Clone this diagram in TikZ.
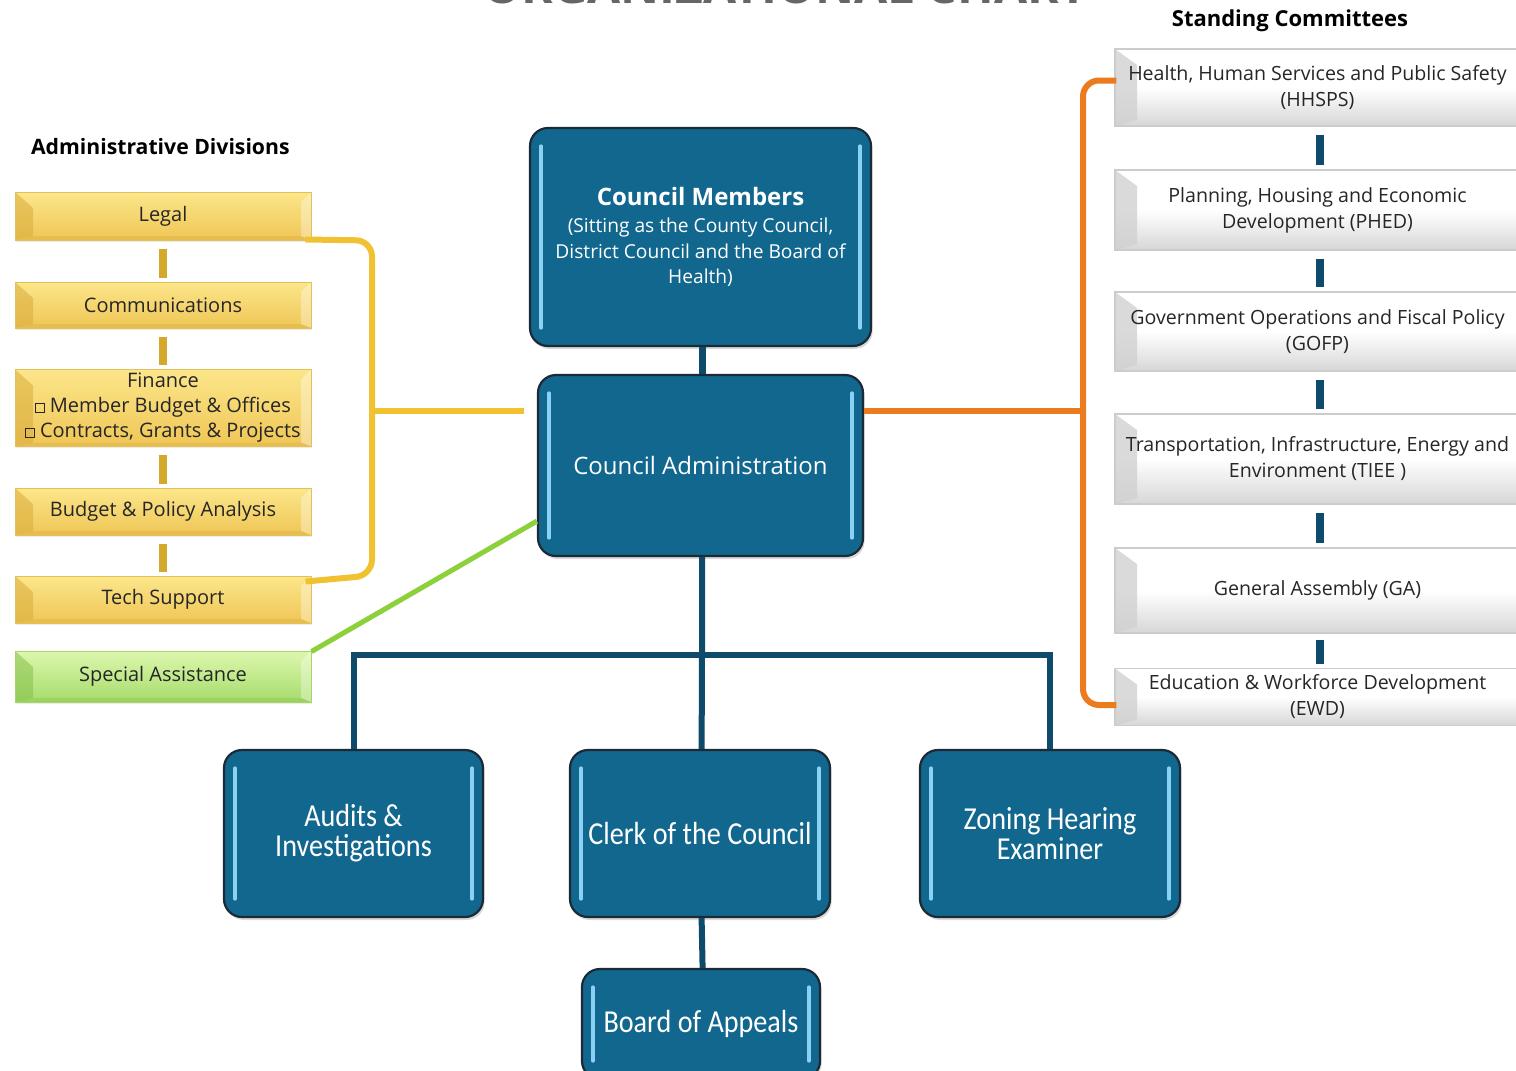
\documentclass[tikz,border=0pt]{standalone}
\usepackage{fontspec}
\setmainfont{Open Sans}
\newfontfamily\condfont[FakeStretch=0.88]{Carlito}
\usetikzlibrary{calc,shadows}
\definecolor{cblue}{HTML}{12678F}
\definecolor{cedge}{HTML}{1C2A36}
\definecolor{chl}{HTML}{8AD2F4}
\definecolor{cline}{HTML}{0E4A6A}
\definecolor{corange}{HTML}{EC7B1E}
\definecolor{cyel}{HTML}{F0C232}
\definecolor{cyeldark}{HTML}{D4A82C}
\definecolor{cgreen}{HTML}{8CD03C}
\definecolor{ytop}{HTML}{FCE68A}
\definecolor{ybot}{HTML}{EFC656}
\definecolor{yedge}{HTML}{E2C05A}
\definecolor{ybev}{HTML}{D9AC3C}
\definecolor{gtop}{HTML}{DDF7AE}
\definecolor{gbot}{HTML}{A6DC6A}
\definecolor{gedge}{HTML}{A8D46A}
\definecolor{gbev}{HTML}{86C04A}
\newcommand{\sqbullet}{\raisebox{0.6pt}{\fboxsep=0pt\fboxrule=0.5pt\fbox{\rule{0pt}{3.8pt}\hspace{3.8pt}}}}
\begin{document}
\begin{tikzpicture}[x=0.5pt,y=-0.5pt,
  bluebox/.style={rounded corners=9pt, fill=cblue, draw=cedge, line width=1.1pt,
    text=white, align=center, inner sep=0pt,
    drop shadow={opacity=0.3,shadow xshift=0.8pt,shadow yshift=-1.5pt},
    path picture={
      \draw[chl, line width=1.6pt, line cap=round]
        ([xshift=5.5pt,yshift=-9pt]path picture bounding box.north west) --
        ([xshift=5.5pt,yshift=9pt]path picture bounding box.south west);
      \draw[chl, line width=1.6pt, line cap=round]
        ([xshift=-5.5pt,yshift=-9pt]path picture bounding box.north east) --
        ([xshift=-5.5pt,yshift=9pt]path picture bounding box.south east);
    }},
  bevelbox/.style n args={4}{inner sep=0pt, align=center, minimum width=148pt,
    top color=#1, bottom color=#2, draw=#3, line width=0.5pt,
    font=\fontsize{10}{12.5}\selectfont, text=black!85,
    drop shadow={opacity=0.15,shadow xshift=0.6pt,shadow yshift=-0.8pt},
    path picture={
      \fill[#4, opacity=0.55] (path picture bounding box.north west) --
        ([xshift=9pt,yshift=-8pt]path picture bounding box.north west) --
        ([xshift=9pt,yshift=2pt]path picture bounding box.south west) --
        (path picture bounding box.south west) -- cycle;
      \fill[white, opacity=0.35] (path picture bounding box.north east) --
        ([xshift=-5pt,yshift=-5pt]path picture bounding box.north east) --
        ([xshift=-5pt,yshift=2pt]path picture bounding box.south east) --
        (path picture bounding box.south east) -- cycle;
      \fill[#4, opacity=0.35] (path picture bounding box.south west) --
        ([xshift=9pt,yshift=2pt]path picture bounding box.south west) --
        ([xshift=-5pt,yshift=2pt]path picture bounding box.south east) --
        (path picture bounding box.south east) -- cycle;
    }},
  yelbox/.style={bevelbox={ytop}{ybot}{yedge}{ybev}},
  grnbox/.style={bevelbox={gtop}{gbot}{gedge}{gbev}},
  commbox/.style={inner sep=0pt, align=center, minimum width=202.5pt,
    top color=white, bottom color=black!16, middle color=white,
    draw=black!20, line width=0.6pt,
    font=\fontsize{9.8}{13}\selectfont, text=black!85,
    path picture={
      \fill[black!18, opacity=0.8] (path picture bounding box.north west) --
        ([xshift=11pt,yshift=-8pt]path picture bounding box.north west) --
        ([xshift=11pt,yshift=3pt]path picture bounding box.south west) --
        (path picture bounding box.south west) -- cycle;
    }},
  header/.style={font=\fontsize{10.6}{13}\selectfont\bfseries, text=black},
  yconn/.style={cyeldark, line width=4pt},
  bconn/.style={cline, line width=4pt},
  tree/.style={cline, line width=3pt},
  bottomtext/.style={font=\condfont\fontsize{16}{15}\selectfont}
]
\useasboundingbox (0,0) rectangle (1516,1071);
\clip (0,0) rectangle (1516,1071);
\fill[white] (0,0) rectangle (1516,1071);

% title (cut off at top)
\node[anchor=base, font=\fontsize{24}{24}\selectfont\bfseries, text=black!60] (title) at (785,3) {ORGANIZATIONAL CHART};

% headers
\node[header, anchor=west] (adhead) at (24,147) {Administrative Divisions};
\node[header, font=\fontsize{11}{13}\selectfont\bfseries] (schead) at (1290,21) {Standing Committees};

% left column
\node[yelbox, minimum height=24pt] (legal) at (163,216) {Legal};
\node[yelbox, minimum height=23pt] (comm) at (163,305) {Communications};
\node[yelbox, minimum height=38.5pt] (fin) at (163,408) {Finance\\\sqbullet\ Member Budget \& Offices\\\sqbullet\ Contracts, Grants \& Projects};
\node[yelbox, minimum height=23.5pt] (bud) at (163,511.5) {Budget \& Policy Analysis};
\node[yelbox, minimum height=23.5pt] (tech) at (163,599.5) {Tech Support};
\node[grnbox, minimum height=25.5pt] (spec) at (163,676.5) {Special Assistance};

\draw[yconn, shorten <=4pt, shorten >=2pt] (legal) -- (comm);
\draw[yconn, shorten <=4pt, shorten >=2pt] (comm) -- (fin);
\draw[yconn, shorten <=4pt, shorten >=2pt] (fin) -- (bud);
\draw[yconn, shorten <=4pt, shorten >=2pt] (bud) -- (tech);

% centre
\node[bluebox, minimum width=170.5pt, minimum height=109pt,
  font=\fontsize{9.6}{12.75}\selectfont] (cm) at (700.5,237)
  {{\fontsize{12}{14}\selectfont\bfseries Council Members}\\[1pt]
   (Sitting as the County Council,\\District Council and the Board of\\Health)};
\node[bluebox, minimum width=162.5pt, minimum height=90.5pt,
  font=\fontsize{12}{14}\selectfont] (ca) at (700.5,465.5) {Council Administration};

\node[bluebox, minimum width=129.5pt, minimum height=83.5pt, bottomtext] (au) at (353.5,833.5) {Audits \&\\Investigations};
\node[bluebox, minimum width=130pt, minimum height=83.5pt, bottomtext] (cl) at (700,833.5) {Clerk of the Council};
\node[bluebox, minimum width=130pt, minimum height=83.5pt, bottomtext] (zo) at (1050,833.5) {Zoning Hearing\\Examiner};
\node[bluebox, minimum width=119pt, minimum height=55pt, bottomtext] (bo) at (701,1024) {Board of Appeals};

% committees
\node[commbox, minimum height=38.5pt] (hh) at (1317.5,87.5) {Health, Human Services and Public Safety\\(HHSPS)};
\node[commbox, minimum height=40pt] (ph) at (1317.5,210) {Planning, Housing and Economic\\Development (PHED)};
\node[commbox, minimum height=39.5pt] (go) at (1317.5,331.5) {Government Operations and Fiscal Policy\\(GOFP)};
\node[commbox, minimum height=45pt] (ti) at (1317.5,459) {Transportation, Infrastructure, Energy and\\Environment (TIEE )};
\node[commbox, minimum height=42.5pt] (ga) at (1317.5,590.5) {General Assembly (GA)};
\node[commbox, minimum height=28.5pt] (ew) at (1317.5,697) {Education \& Workforce Development\\(EWD)};

\draw[bconn, shorten <=4pt, shorten >=2pt] ([xshift=1.2pt]hh.south) -- ([xshift=1.2pt]ph.north);
\draw[bconn, shorten <=4pt, shorten >=2pt] ([xshift=1.2pt]ph.south) -- ([xshift=1.2pt]go.north);
\draw[bconn, shorten <=4pt, shorten >=2pt] ([xshift=1.2pt]go.south) -- ([xshift=1.2pt]ti.north);
\draw[bconn, shorten <=4pt, shorten >=2pt] ([xshift=1.2pt]ti.south) -- ([xshift=1.2pt]ga.north);
\draw[bconn, shorten <=3pt, shorten >=2pt] ([xshift=1.2pt]ga.south) -- ([xshift=1.2pt]ew.north);

% connectors
\coordinate (yb) at (372,411);
\coordinate (ob) at (1083,411);
\coordinate (hb) at (702,655);

\draw[cline, line width=3.5pt] ([xshift=0.8pt]cm.south) -- ([xshift=0.8pt]ca.north);

\draw[cyel, line width=3pt, rounded corners=8pt]
  ($(legal.south east)+(-6,-1)$) -- (yb |- legal.south east) --
  (yb |- tech.north east) -- ($(tech.north east)+(-6,6)$);
\draw[cyel, line width=3pt] (yb) -- ($(ca.west |- yb)+(-13,0)$);

\draw[cgreen, line width=2.5pt] ($(spec.north east)+(0,1)$) -- ($(ca.south west)+(0,-36)$);

\draw[corange, line width=3pt, rounded corners=8pt]
  ($(hh.west)+(2,-7)$) -- ($(ob |- hh.west)+(0,-7)$) -- ($(ob |- ew.west)+(0,8)$) -- ($(ew.west)+(2,8)$);
\draw[corange, line width=3pt] (ca.east |- ob) -- (ob);

\draw[tree] ([xshift=0.8pt]ca.south) -- (hb) -- ([xshift=0.8pt]cl.north);
\draw[tree] (au.north) -- (au.north |- hb) -- (zo.north |- hb) -- (zo.north);
\draw[tree] ([xshift=0.8pt]cl.south) -- ([xshift=0.8pt]bo.north);
\end{tikzpicture}
\end{document}
